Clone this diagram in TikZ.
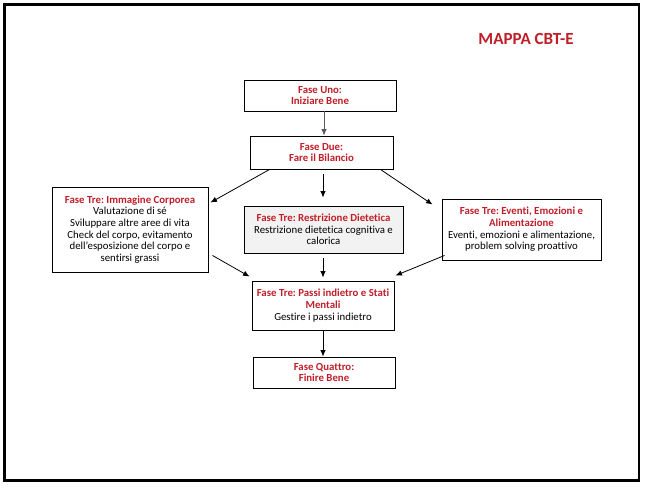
\documentclass[tikz,border=0pt]{standalone}
\usepackage{fontspec}
\setmainfont[Ligatures={NoCommon}]{Carlito}
\frenchspacing
\usetikzlibrary{arrows.meta,calc}
\definecolor{fasered}{RGB}{192,30,40}
\definecolor{boxgray}{RGB}{242,242,242}
\newcommand{\ft}[1]{\textcolor{fasered}{\bfseries #1}}
\tikzset{
  box/.style={draw=black,line width=0.9pt,inner sep=0pt,align=center,
    font=\fontsize{10.8}{11.6}\selectfont},
  arr/.style={line width=0.8pt,-{Latex[length=6.5pt,width=5.5pt]}},
}
\begin{document}
\begin{tikzpicture}[x=1pt,y=-1pt]
\useasboundingbox (0,0) rectangle (646,488);
\draw[line width=2.6pt] (4.5,4.5) rectangle (639,480.5);
\node[font=\fontsize{17}{20}\selectfont\bfseries,text=fasered] (title) at (526,39) {MAPPA CBT-E};
\node[box,minimum width=152pt,minimum height=31pt] (uno) at (320,95.5) {\ft{Fase Uno:}\\\ft{Iniziare Bene}};
\node[box,minimum width=143pt,minimum height=33pt] (due) at (321.5,152.5) {\ft{Fase Due:}\\\ft{Fare il Bilancio}};
\node[box,minimum width=156pt,minimum height=85pt] (imm) at (130,229.5) {\ft{Fase Tre: Immagine Corporea}\\Valutazione di sé\\Sviluppare altre aree di vita\\Check del corpo, evitamento\\dell’esposizione del corpo e\\sentirsi grassi};
\node[box,fill=boxgray,minimum width=159pt,minimum height=47pt] (restr) at (323.5,229.5) {\ft{Fase Tre: Restrizione Dietetica}\\Restrizione dietetica cognitiva e\\calorica};
\node[box,minimum width=159pt,minimum height=61pt] (eventi) at (521.5,229.5) {\ft{Fase Tre: Eventi, Emozioni e}\\\ft{Alimentazione}\\Eventi, emozioni e alimentazione,\\problem solving proattivo};
\node[box,minimum width=142pt,minimum height=49pt] (passi) at (323,305.5) {\ft{Fase Tre: Passi indietro e Stati}\\\ft{Mentali}\\Gestire i passi indietro};
\node[box,minimum width=142pt,minimum height=31pt] (quattro) at (324,372.5) {\ft{Fase Quattro:}\\\ft{Finire Bene}};
% connectors
\draw[arr,draw=black!65] ($(uno.south)+(4,0)$) -- ($(due.north)+(2.5,0)$);
\draw[arr] ($(due.south)+(1.5,5)$) -- ($(restr.north)+(-0.5,-8)$);
\draw[arr] ($(restr.south)+(-0.5,5)$) -- ($(passi.north)+(0,-3)$);
\draw[arr] ($(passi.south)+(0,0)$) -- ($(quattro.north)+(-1,0)$);
\draw[arr] ($(due.south west)+(20,0)$) -- ($(imm.north east)+(2,16)$);
\draw[arr] ($(due.south east)+(-13,0)$) -- ($(eventi.north west)+(-9,6)$);
\draw[arr] ($(imm.south east)+(4,-17)$) -- ($(passi.north west)+(-2,-4)$);
\draw[arr] ($(eventi.south west)+(3,-5)$) -- ($(passi.north east)+(1,-5)$);
\end{tikzpicture}
\end{document}
